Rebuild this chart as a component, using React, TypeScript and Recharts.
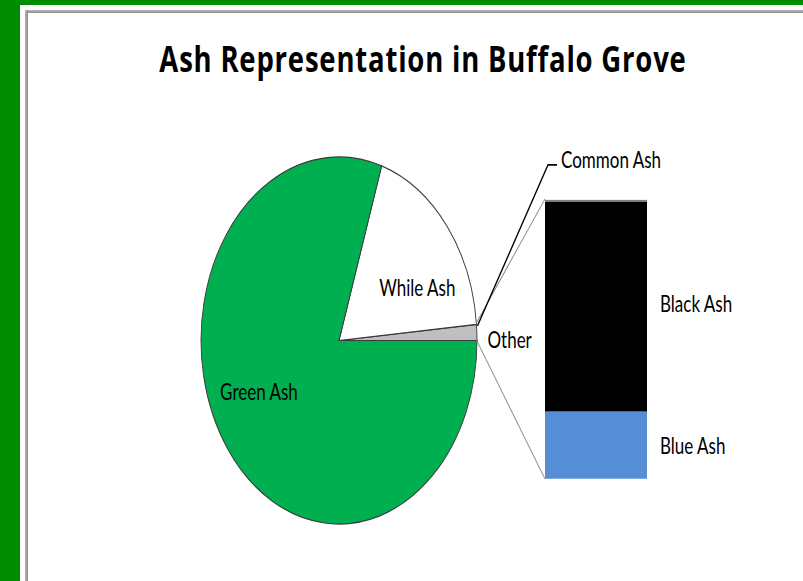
import { PieChart, Pie, Cell, BarChart, Bar, XAxis, YAxis, LabelList } from "recharts"

// split bar (the "Other" slice broken out)
const barNames = ["Blue Ash", "Black Ash", "Common Ash"]
const barValues = [0.34, 1.05, 0.01]
const barColors = ["#558ED5", "#000000", "#7F7F7F"]

const otherTotal = barValues.reduce((a, b) => a + b, 0)

// main pie
const pieNames = ["Other", "While Ash", "Green Ash"]
const pieValues = [otherTotal, 18.6, 80.0]
const pieColors = ["#BFBFBF", "#FFFFFF", "#00B050"]

const pieData = pieNames.map((name, i) => ({ name, value: pieValues[i] }))
const barRow = [Object.fromEntries([["name", "Other"], ...barNames.map((n, i) => [n, barValues[i]])])]

const FONT = "Lato, 'Open Sans', sans-serif"
const TITLE_FONT = "'Open Sans', Lato, sans-serif"
const K = 1.33 // the reference is stretched vertically

const PIE_CX = 338.5
const PIE_CY = 255.6
const PIE_R = 138
const PIE_BOX_W = 420
const PIE_BOX_H = 300

const BAR_LEFT = 545
const BAR_TOP = 149.6
const BAR_W = 102
const BAR_H = 210.6
const BAR_LABEL_SPACE = 140

const RAD = Math.PI / 180

const renderPieLabel = (props: any) => {
  const { cx, cy, midAngle, outerRadius } = props
  const name = props.payload?.name ?? props.name
  if (name === "Other") {
    return (
      <text x={cx + outerRadius + 10.5} y={cy} dy="0.35em" textAnchor="start" fill="#000" fontSize={17} fontFamily={FONT}>
        {name}
      </text>
    )
  }
  const a = (midAngle - 11) * RAD
  const r = outerRadius * 0.64
  return (
    <text
      x={cx + r * Math.cos(a)}
      y={cy - r * Math.sin(a)}
      dy="0.42em"
      textAnchor="middle"
      fill="#000"
      fontSize={17}
      fontFamily={FONT}
    >
      {name}
    </text>
  )
}

export default function App() {
  const total = pieValues.reduce((a, b) => a + b, 0)
  const otherEnd = (otherTotal / total) * 360 * RAD
  const upX = PIE_CX + PIE_R * Math.cos(otherEnd)
  const upY = PIE_CY - PIE_R * Math.sin(otherEnd)

  return (
    <div style={{ position: "absolute", left: 0, top: 0, width: 803, height: 581, background: "#fff", overflow: "hidden" }}>
      {/* frame */}
      <div style={{ position: "absolute", left: 0, top: 0, width: 20, height: 581, background: "#008C00" }} />
      <div style={{ position: "absolute", left: 0, top: 0, width: 803, height: 5, background: "#008C00" }} />
      <div style={{ position: "absolute", left: 25, top: 10, width: 778, height: 3, background: "linear-gradient(#bdbdbd, #8a8a8a)" }} />
      <div style={{ position: "absolute", left: 25, top: 10, width: 3, height: 571, background: "linear-gradient(90deg, #bdbdbd, #8a8a8a)" }} />

      <div style={{ position: "absolute", left: 0, top: 0, width: 803, height: 581 / K, transform: `scaleY(${K})`, transformOrigin: "0 0" }}>
        <div style={{ position: "absolute", left: PIE_CX - PIE_BOX_H / 2, top: PIE_CY - PIE_BOX_H / 2 }}>
          <PieChart width={PIE_BOX_W} height={PIE_BOX_H} margin={{ top: 0, right: 0, bottom: 0, left: 0 }}>
            <Pie
              data={pieData}
              dataKey="value"
              nameKey="name"
              cx={PIE_BOX_H / 2}
              cy={PIE_BOX_H / 2}
              outerRadius={PIE_R}
              startAngle={0}
              endAngle={360}
              label={renderPieLabel}
              labelLine={false}
              isAnimationActive={false}
            >
              {pieData.map((d, i) => (
                <Cell key={d.name} fill={pieColors[i]} stroke="#3a3a3a" strokeWidth={0.9} />
              ))}
            </Pie>
          </PieChart>
        </div>

        <div style={{ position: "absolute", left: BAR_LEFT, top: BAR_TOP }}>
          <BarChart
            width={BAR_W + BAR_LABEL_SPACE}
            height={BAR_H}
            data={barRow}
            margin={{ top: 0, right: BAR_LABEL_SPACE, bottom: 0, left: 0 }}
            barCategoryGap={0}
          >
            <XAxis dataKey="name" hide />
            <YAxis type="number" hide domain={[0, otherTotal]} allowDataOverflow />
            {barNames.map((n, i) => (
              <Bar key={n} dataKey={n} stackId="other" fill={barColors[i]} isAnimationActive={false}>
                {n !== "Common Ash" && (
                  <LabelList
                    dataKey={n}
                    position="right"
                    offset={13}
                    formatter={() => n}
                    fill="#000"
                    fontSize={17}
                    fontFamily={FONT}
                    dy={n === "Black Ash" ? -2 : 0}
                  />
                )}
              </Bar>
            ))}
          </BarChart>
        </div>

        <svg width={803} height={581 / K} style={{ position: "absolute", left: 0, top: 0, overflow: "visible" }}>
          <text
            x={423}
            y={54.4}
            textAnchor="middle"
            fontFamily={TITLE_FONT}
            fontWeight="bold"
            fontSize={27.5}
            letterSpacing={0.8}
            fill="#000"
          >
            Ash Representation in Buffalo Grove
          </text>
          {/* connectors from the Other slice to the split bar */}
          <line x1={upX} y1={upY} x2={BAR_LEFT} y2={BAR_TOP} stroke="#808080" strokeWidth={0.8} />
          <line x1={PIE_CX + PIE_R} y1={PIE_CY} x2={BAR_LEFT} y2={BAR_TOP + BAR_H} stroke="#808080" strokeWidth={0.8} />
          {/* Common Ash leader */}
          <polyline
            points={`${upX + 1.5},${upY + 1.5} 548,124 557,124`}
            fill="none"
            stroke="#000"
            strokeWidth={1.3}
          />
          <text x={561} y={120.3} dy="0.35em" fontFamily={FONT} fontSize={17} fill="#000">
            Common Ash
          </text>
        </svg>
      </div>
    </div>
  )
}
